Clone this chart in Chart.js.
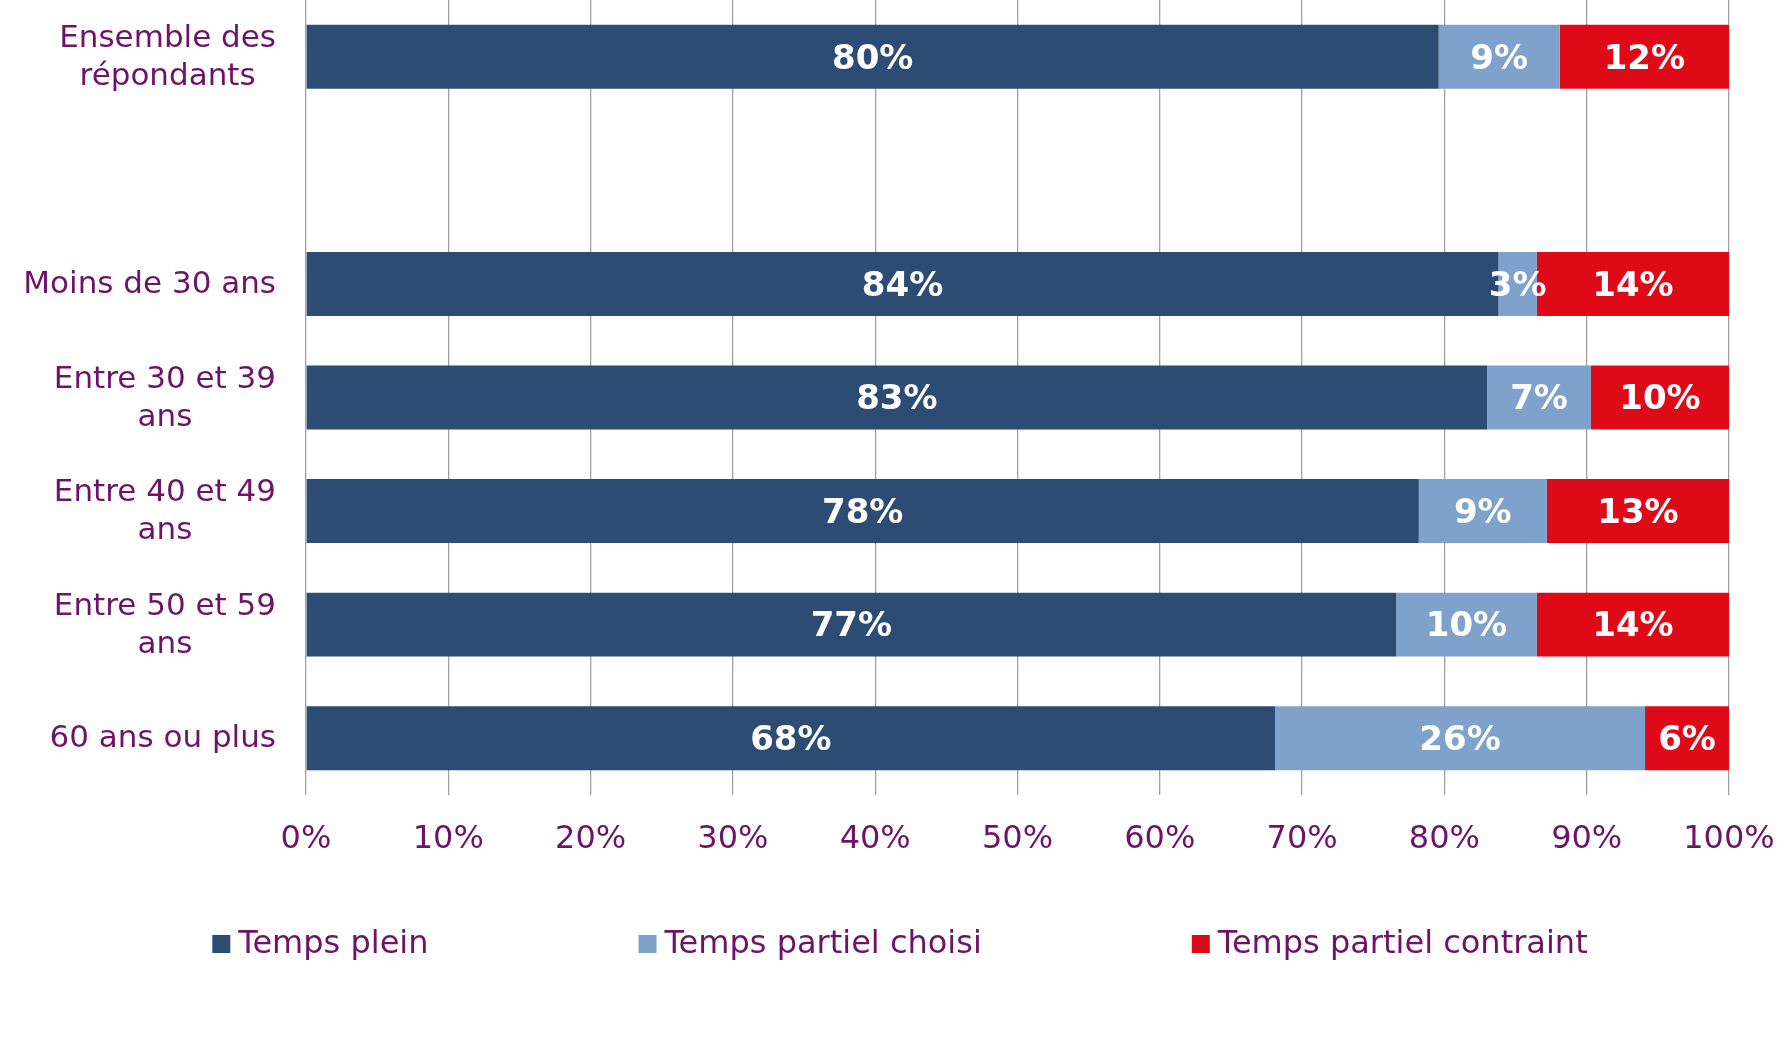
<!DOCTYPE html>
<html>
<head>
<meta charset="utf-8">
<script src="https://cdn.jsdelivr.net/npm/chart.js@4/dist/chart.umd.min.js"></script>
<style>
  html, body { margin: 0; padding: 0; background: #fff; }
  #wrap { width: 1787px; height: 1045px; }
</style>
</head>
<body>
<div id="wrap"><canvas id="tempsChart" width="1787" height="1045"></canvas></div>
<script>
// ==========================================
// DATA
// ==========================================
const categories = [
    ['Ensemble des', 'répondants'],
    '',
    'Moins de 30 ans',
    ['Entre 30 et 39', 'ans'],
    ['Entre 40 et 49', 'ans'],
    ['Entre 50 et 59', 'ans'],
    '60 ans ou plus'
];
const tempsPlein = [79.6, null, 83.8, 83.0, 78.2, 76.6, 68.1];
const partielChoisi = [8.5, null, 2.7, 7.3, 9.0, 9.9, 26.0];
const partielContraint = [11.9, null, 13.5, 9.7, 12.8, 13.5, 5.9];
const seriesLabels = ['Temps plein', 'Temps partiel choisi', 'Temps partiel contraint'];
const tickValues = [0, 10, 20, 30, 40, 50, 60, 70, 80, 90, 100];

const FONT = "'DejaVu Sans', Verdana, sans-serif";
const TEXT_COLOR = '#6E1468';
const GRID_COLOR = '#A0A0A0';
const colors = ['#2C4C74', '#7FA2CD', '#DF0A18'];

// ==========================================
// PLUGINS
// ==========================================
// Values in the middle of each segment
const segmentLabels = {
    id: 'segmentLabels',
    afterDatasetsDraw(chart) {
        const ctx = chart.ctx;
        ctx.save();
        ctx.font = `bold 34px ${FONT}`;
        ctx.fillStyle = '#FFFFFF';
        ctx.textAlign = 'center';
        ctx.textBaseline = 'middle';
        chart.data.datasets.forEach((ds, i) => {
            const meta = chart.getDatasetMeta(i);
            meta.data.forEach((bar, j) => {
                const v = ds.data[j];
                if (v === null || v === undefined) return;
                const cx = (bar.x + bar.base) / 2;
                ctx.fillText(Math.round(v) + '%', cx, bar.y + 3);
            });
        });
        ctx.restore();
    }
};

// Category labels: block right-aligned, lines centred inside it
const categoryLabels = {
    id: 'categoryLabels',
    afterDraw(chart) {
        const ctx = chart.ctx;
        const yScale = chart.scales.y;
        const right = chart.chartArea.left - 30;
        const lineHeight = 38;
        ctx.save();
        ctx.font = `31px ${FONT}`;
        ctx.fillStyle = TEXT_COLOR;
        ctx.textAlign = 'center';
        ctx.textBaseline = 'middle';
        categories.forEach((label, i) => {
            const lines = Array.isArray(label) ? label : [label];
            if (!lines[0]) return;
            const widest = Math.max(...lines.map(l => ctx.measureText(l).width));
            const cx = right - widest / 2;
            const cy = yScale.getPixelForValue(i);
            const startY = cy - (lines.length - 1) * lineHeight / 2;
            lines.forEach((l, k) => ctx.fillText(l, cx, startY + k * lineHeight + 1));
        });
        ctx.restore();
    }
};

// Legend drawn by hand so the spacing matches
const bottomLegend = {
    id: 'bottomLegend',
    afterDraw(chart) {
        const ctx = chart.ctx;
        const box = 18, textGap = 8, itemGap = 210, cy = 945;
        ctx.save();
        ctx.font = `32px ${FONT}`;
        ctx.textBaseline = 'middle';
        ctx.textAlign = 'left';
        const items = chart.data.datasets.map(ds => ({
            label: ds.label,
            color: ds.backgroundColor,
            w: box + textGap + ctx.measureText(ds.label).width
        }));
        const total = items.reduce((s, it) => s + it.w, 0) + itemGap * (items.length - 1);
        let x = 900 - total / 2;
        items.forEach(it => {
            ctx.fillStyle = it.color;
            ctx.fillRect(x, cy - box / 2 - 1, box, box);
            ctx.fillStyle = TEXT_COLOR;
            ctx.fillText(it.label, x + box + textGap, cy);
            x += it.w + itemGap;
        });
        ctx.restore();
    }
};

// ==========================================
// CHART
// ==========================================
const ctx = document.getElementById('tempsChart').getContext('2d');
const dataSets = [tempsPlein, partielChoisi, partielContraint];

new Chart(ctx, {
    type: 'bar',
    data: {
        labels: categories,
        datasets: dataSets.map((d, i) => ({
            label: seriesLabels[i],
            data: d,
            backgroundColor: colors[i],
            borderWidth: 0,
            categoryPercentage: 1,
            barPercentage: 0.563
        }))
    },
    options: {
        indexAxis: 'y',
        responsive: false,
        animation: false,
        devicePixelRatio: 1,
        layout: { padding: { top: 0, right: 58, bottom: 0, left: 0 } },
        plugins: {
            legend: { display: false },
            tooltip: { enabled: false }
        },
        scales: {
            x: {
                stacked: true,
                min: 0,
                max: 100,
                afterBuildTicks: (scale) => {
                    scale.ticks = tickValues.map(v => ({ value: v }));
                },
                afterFit: (scale) => {
                    scale.height = 250;
                    // the right margin comes from layout padding only
                    scale.paddingLeft = 0;
                    scale.paddingRight = 0;
                },
                grid: {
                    color: GRID_COLOR,
                    lineWidth: 1.3,
                    drawTicks: false
                },
                border: { display: false },
                ticks: {
                    padding: 25,
                    color: TEXT_COLOR,
                    font: { family: FONT, size: 32 },
                    callback: (v) => v + '%'
                }
            },
            y: {
                stacked: true,
                afterFit: (scale) => { scale.width = 306; },
                grid: { display: false },
                border: { display: false },
                ticks: { display: false }
            }
        }
    },
    plugins: [segmentLabels, categoryLabels, bottomLegend]
});
</script>
</body>
</html>
